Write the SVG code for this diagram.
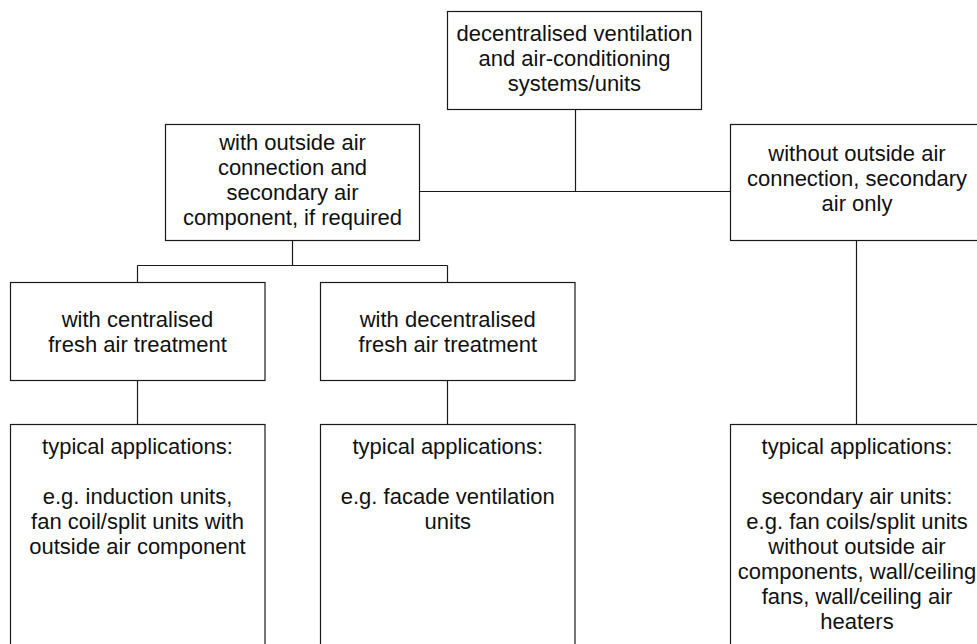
<svg xmlns="http://www.w3.org/2000/svg" width="977" height="644" viewBox="0 0 977 644">
<style>
rect.box{fill:#fff;stroke:#1a1a1a;stroke-width:1.2}
.conn line{stroke:#1a1a1a;stroke-width:1.2}
text{font-family:"Liberation Sans",Arial,sans-serif;font-size:22px;fill:#111;text-anchor:middle}
</style>
<rect width="977" height="644" fill="#fff"/>
<g class="conn" id="connectors">
<line x1="575.5" y1="109.5" x2="575.5" y2="191.5"/>
<line x1="419.5" y1="191.5" x2="730.5" y2="191.5"/>
<line x1="292.5" y1="240.5" x2="292.5" y2="265.5"/>
<line x1="137.5" y1="265.5" x2="447.5" y2="265.5"/>
<line x1="137.5" y1="265.5" x2="137.5" y2="282.5"/>
<line x1="447.5" y1="265.5" x2="447.5" y2="282.5"/>
<line x1="137.5" y1="380.5" x2="137.5" y2="424.5"/>
<line x1="447.5" y1="380.5" x2="447.5" y2="424.5"/>
<line x1="856.5" y1="240.5" x2="856.5" y2="424.5"/>
</g>
<g id="root">
<rect class="box" x="447.5" y="11.5" width="254" height="98"/>
<text x="574.5" y="41">decentralised ventilation</text>
<text x="574.5" y="66">and air-conditioning</text>
<text x="574.5" y="91">systems/units</text>
</g>
<g id="with-outside">
<rect class="box" x="165.5" y="124.5" width="254" height="116"/>
<text x="292.5" y="150">with outside air</text>
<text x="292.5" y="175">connection and</text>
<text x="292.5" y="200">secondary air</text>
<text x="292.5" y="225">component, if required</text>
</g>
<g id="without-outside">
<rect class="box" x="730.5" y="124.5" width="254" height="116"/>
<text x="857" y="161">without outside air</text>
<text x="857" y="186">connection, secondary</text>
<text x="857" y="211">air only</text>
</g>
<g id="centralised">
<rect class="box" x="10.5" y="282.5" width="254.5" height="98"/>
<text x="137.5" y="327">with centralised</text>
<text x="137.5" y="352">fresh air treatment</text>
</g>
<g id="decentralised">
<rect class="box" x="320.5" y="282.5" width="254.5" height="98"/>
<text x="447.8" y="327">with decentralised</text>
<text x="447.8" y="352">fresh air treatment</text>
</g>
<g id="apps-left">
<rect class="box" x="10.5" y="424.5" width="254.5" height="240"/>
<text x="137.5" y="454">typical applications:</text>
<text x="137.5" y="504">e.g. induction units,</text>
<text x="137.5" y="529">fan coil/split units with</text>
<text x="137.5" y="554">outside air component</text>
</g>
<g id="apps-middle">
<rect class="box" x="320.5" y="424.5" width="254.5" height="240"/>
<text x="447.8" y="454">typical applications:</text>
<text x="447.8" y="504">e.g. facade ventilation</text>
<text x="447.8" y="529">units</text>
</g>
<g id="apps-right">
<rect class="box" x="730.5" y="424.5" width="254" height="240"/>
<text x="857" y="454">typical applications:</text>
<text x="857" y="504">secondary air units:</text>
<text x="857" y="529">e.g. fan coils/split units</text>
<text x="857" y="554">without outside air</text>
<text x="857" y="579">components, wall/ceiling</text>
<text x="857" y="604">fans, wall/ceiling air</text>
<text x="857" y="629">heaters</text>
</g>
</svg>
